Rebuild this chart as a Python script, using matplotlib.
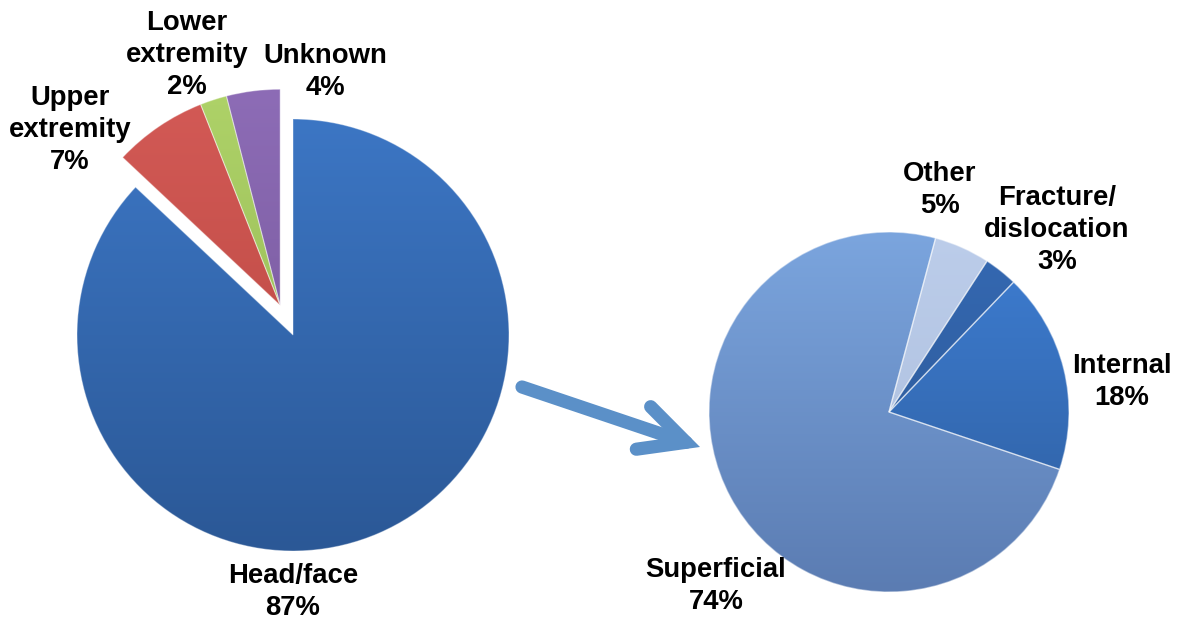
import numpy as np
import matplotlib
matplotlib.use("Agg")
import matplotlib.pyplot as plt
from matplotlib.colors import LinearSegmentedColormap
from matplotlib.patches import FancyArrowPatch

# ---- data ----
left_labels = ["Head/face", "Upper\nextremity", "Lower\nextremity", "Unknown"]
left_values = [87, 7, 2, 4]
right_labels = ["Other", "Fracture/\ndislocation", "Internal", "Superficial"]
right_values = [5, 3, 18, 74]

# ---- styles ----
left_grad = [("#3c76c4", "#2b5896"), ("#d35a56", "#b8463f"),
             ("#aed268", "#92b553"), ("#8d6cb6", "#735597")]
right_grad = [("#bccdea", "#a9bcdc"), ("#3569b3", "#2a5590"),
              ("#3e7ed3", "#2d5c9c"), ("#7ba5de", "#5b7cb2")]

W, H = 1185, 626
plt.rcParams["font.family"] = ["Liberation Sans", "DejaVu Sans"]
fig = plt.figure(figsize=(W / 100, H / 100), dpi=100)
ax = fig.add_axes([0, 0, 1, 1])


def gradient_fill(ax, wedges, grads, r):
    grad = np.linspace(1, 0, 256).reshape(-1, 1)
    for w, (top, bot) in zip(wedges, grads):
        c = w.center
        cmap = LinearSegmentedColormap.from_list("g", [bot, top])
        im = ax.imshow(grad, cmap=cmap, aspect="auto",
                       extent=[c[0] - r, c[0] + r, c[1] - r, c[1] + r],
                       zorder=2, origin="upper")
        im.set_clip_path(w)
        w.set_facecolor("none")
        w.set_zorder(3)


# left pie
lc = (293, H - 335)
lr = 216
lw_, _ = ax.pie(left_values, startangle=90, counterclock=False,
                center=lc, radius=lr, frame=True,
                wedgeprops=dict(edgecolor=(1, 1, 1, 0.35), linewidth=0.8))
# explode small slices as a group
t1 = min(w.theta1 for w in lw_[1:])
t2 = max(w.theta2 for w in lw_[1:])
mid = np.deg2rad((t1 + t2) / 2)
d = 0.15 * lr
for w in lw_[1:]:
    w.set_center((lc[0] + d * np.cos(mid), lc[1] + d * np.sin(mid)))
gradient_fill(ax, lw_, left_grad, lr)

# right pie
rc = (889, H - 412)
rr = 180
rw_, _ = ax.pie(right_values, startangle=75, counterclock=False,
                center=rc, radius=rr, frame=True,
                wedgeprops=dict(edgecolor=(1, 1, 1, 0.45), linewidth=1.0))
gradient_fill(ax, rw_, right_grad, rr)

# arrow
arr = FancyArrowPatch((522, H - 387), (700, H - 447),
                      arrowstyle="->,head_length=0.38,head_width=0.19",
                      mutation_scale=85, color="#5b90c8", linewidth=9.5,
                      capstyle="round", joinstyle="miter", zorder=4,
                      shrinkA=0, shrinkB=0)
ax.add_patch(arr)

# labels
fs = 19.8
left_pos = [(293, 592), (70, 130), (187, 55), (325, 72)]
right_pos = [(940, 190), (1057, 230), (1122, 382), (716, 586)]
for lab, v, (x, y) in zip(left_labels, left_values, left_pos):
    ax.text(x, H - y, f"{lab}\n{v}%", ha="center", va="center",
            fontsize=fs, fontweight="bold", linespacing=1.3, zorder=5)
for lab, v, (x, y) in zip(right_labels, right_values, right_pos):
    ax.text(x, H - y, f"{lab}\n{v}%", ha="center", va="center",
            fontsize=fs, fontweight="bold", linespacing=1.3, zorder=5)

ax.set_xlim(0, W)
ax.set_ylim(0, H)
ax.set_aspect("equal")
ax.axis("off")
fig.savefig("out.png", dpi=100)
